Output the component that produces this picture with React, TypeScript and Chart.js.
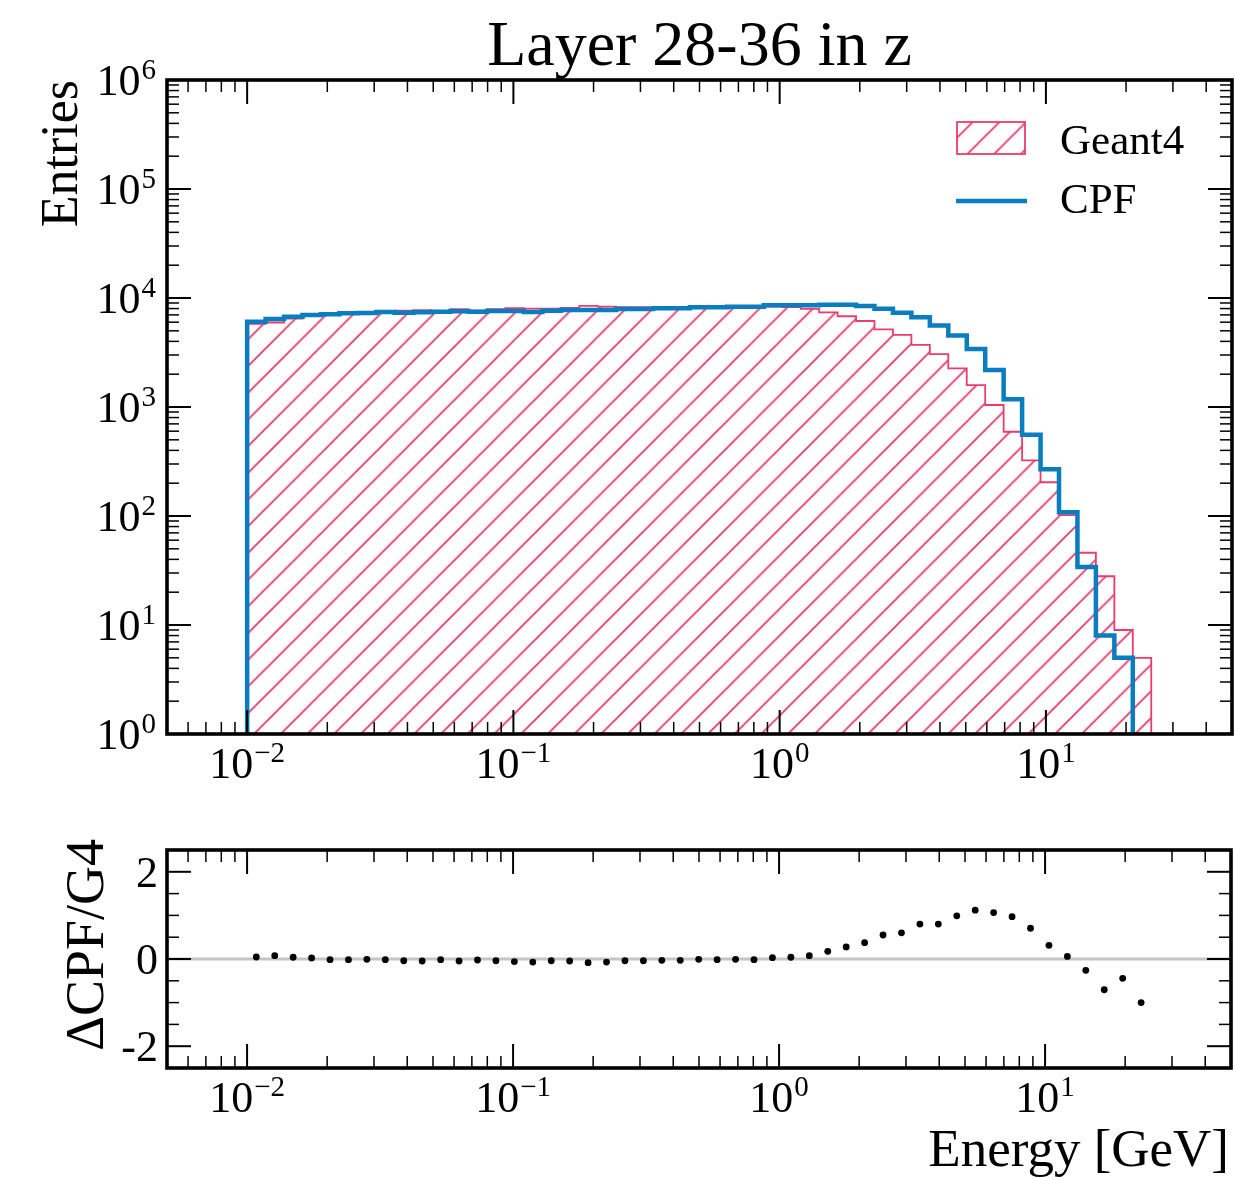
import React, { useEffect, useRef } from "react";
import { Chart, registerables } from "chart.js";

Chart.register(...registerables);

const PAGE_W = 1235;
const PAGE_H = 1180;

// Binning: 50 logarithmic bins starting at 10^-2 GeV
const LOG_FIRST_EDGE = -2;
const LOG_BIN_WIDTH = 0.0693;
const N_BINS = 50;

// Entries per bin
const GEANT4_COUNTS = [
  5800, 5960, 6480, 6830, 7200, 7350, 7340, 7550, 7640, 7750,
  7600, 7920, 7660, 7920, 8080, 8000, 7970, 8130, 8480, 8340,
  8260, 8260, 8290, 8290, 8280, 8340, 8390, 8450, 8320, 8240,
  7960, 7380, 6800, 6150, 5160, 4580, 3710, 3060, 2265, 1590,
  1043, 593, 324, 204, 102, 46, 28, 9, 5, 0,
];
const CPF_COUNTS = [
  6060, 6420, 6740, 6980, 7090, 7240, 7280, 7440, 7330, 7390,
  7490, 7550, 7490, 7600, 7600, 7440, 7650, 7760, 7760, 7760,
  7930, 7930, 8040, 8040, 8220, 8220, 8320, 8320, 8570, 8570,
  8570, 8680, 8680, 8460, 7950, 7330, 6670, 5600, 4540, 3400,
  2180, 1180, 557, 268, 108, 34, 8, 5, 0, 0,
];
// (CPF - G4) / G4 per bin
const RATIO_VALUES: (number | null)[] = [
  0.046, 0.077, 0.04, 0.023, -0.015, -0.015, -0.008, -0.015, -0.04, -0.046,
  -0.015, -0.046, -0.023, -0.04, -0.06, -0.07, -0.04, -0.046, -0.085, -0.07,
  -0.04, -0.04, -0.03, -0.03, -0.008, -0.015, -0.008, -0.015, 0.03, 0.04,
  0.077, 0.176, 0.276, 0.375, 0.55, 0.6, 0.8, 0.8, 0.99, 1.12,
  1.065, 0.97, 0.705, 0.314, 0.06, -0.26, -0.705, -0.444, -1.0, null,
];

const X_LIMITS = [0.005, 50];
const Y_LIMITS = [1, 1e6];
const RATIO_LIMITS = [-2.5, 2.5];

const X_MAJOR_TICKS = [0.01, 0.1, 1, 10];
const X_MAJOR_EXPONENTS = ["\u22122", "\u22121", "0", "1"];
const Y_MAJOR_TICKS = [1, 10, 100, 1000, 10000, 100000, 1000000];
const Y_MAJOR_EXPONENTS = ["0", "1", "2", "3", "4", "5", "6"];
const RATIO_MAJOR_TICKS = [-2, 0, 2];
const RATIO_MAJOR_LABELS = ["-2", "0", "2"];
const RATIO_MINOR_TICKS = [-1.5, -1, -0.5, 0.5, 1, 1.5];

const TITLE = "Layer 28-36 in z";
const Y_LABEL_TOP = "Entries";
const Y_LABEL_BOTTOM = "\u0394CPF/G4";
const X_LABEL = "Energy [GeV]";
const LEGEND_G4 = "Geant4";
const LEGEND_CPF = "CPF";

const RED = "#ea3d6c";
const BLUE = "#0a7cc0";
const GREY = "#c4c4c4";
const FONT = '"Liberation Serif", "Times New Roman", serif';

const TOP_PAD = { left: 167, top: 80, right: PAGE_W - 1232, bottom: PAGE_H - 734 };
const BOT_PAD = { left: 167, top: 850, right: PAGE_W - 1232, bottom: PAGE_H - 1068 };

const MAJOR_LEN = 24;
const MINOR_LEN = 12;
const FRAME_W = 3.6;
const TICK_PX = 44;
const SUP_PX = 29;
const SUP_RAISE = 16;

const BIN_EDGES = Array.from({ length: N_BINS + 1 }, (_, i) => Math.pow(10, LOG_FIRST_EDGE + i * LOG_BIN_WIDTH));
const BIN_CENTERS = Array.from({ length: N_BINS }, (_, i) => Math.pow(10, LOG_FIRST_EDGE + (i + 0.5) * LOG_BIN_WIDTH));

function stepPoints(counts: number[]) {
  let last = counts.length - 1;
  while (last >= 0 && counts[last] <= 0) last--;
  const floor = 0.5;
  const pts: { x: number; y: number }[] = [{ x: BIN_EDGES[0], y: floor }];
  for (let i = 0; i <= last; i++) pts.push({ x: BIN_EDGES[i], y: Math.max(counts[i], floor) });
  pts.push({ x: BIN_EDGES[last + 1], y: counts[last] });
  pts.push({ x: BIN_EDGES[last + 1], y: floor });
  return pts;
}

function logMinorTicks(min: number, max: number) {
  const out: number[] = [];
  const e0 = Math.floor(Math.log10(min));
  const e1 = Math.ceil(Math.log10(max));
  for (let e = e0; e <= e1; e++) {
    for (let k = 2; k <= 9; k++) {
      const v = k * Math.pow(10, e);
      if (v > min * 1.0001 && v < max * 0.9999) out.push(v);
    }
  }
  return out;
}

function makeHatch(ctx: CanvasRenderingContext2D) {
  const s = 27;
  const c = document.createElement("canvas");
  c.width = s;
  c.height = s;
  const g = c.getContext("2d")!;
  g.strokeStyle = RED;
  g.lineWidth = 1.9;
  g.beginPath();
  g.moveTo(-3, s + 3);
  g.lineTo(s + 3, -3);
  g.moveTo(-3, 3);
  g.lineTo(3, -3);
  g.moveTo(s - 3, s + 3);
  g.lineTo(s + 3, s - 3);
  g.stroke();
  const p = ctx.createPattern(c, "repeat")!;
  try {
    if ((p as any).setTransform) (p as any).setTransform(new DOMMatrix().scale(26.7 / s));
  } catch (e) {}
  return p;
}

function line(ctx: CanvasRenderingContext2D, x1: number, y1: number, x2: number, y2: number) {
  ctx.beginPath();
  ctx.moveTo(x1, y1);
  ctx.lineTo(x2, y2);
  ctx.stroke();
}

function drawXTicks(ctx: CanvasRenderingContext2D, sx: any, a: any) {
  ctx.strokeStyle = "#000";
  ctx.lineWidth = 2;
  X_MAJOR_TICKS.forEach((v) => {
    const px = sx.getPixelForValue(v);
    line(ctx, px, a.bottom, px, a.bottom - MAJOR_LEN);
    line(ctx, px, a.top, px, a.top + MAJOR_LEN);
  });
  ctx.lineWidth = 1.5;
  logMinorTicks(X_LIMITS[0], X_LIMITS[1]).forEach((v) => {
    const px = sx.getPixelForValue(v);
    line(ctx, px, a.bottom, px, a.bottom - MINOR_LEN);
    line(ctx, px, a.top, px, a.top + MINOR_LEN);
  });
}

function drawYTicks(ctx: CanvasRenderingContext2D, sy: any, a: any, majors: number[], minors: number[]) {
  ctx.strokeStyle = "#000";
  ctx.lineWidth = 2;
  majors.forEach((v) => {
    const py = sy.getPixelForValue(v);
    line(ctx, a.left, py, a.left + MAJOR_LEN, py);
    line(ctx, a.right, py, a.right - MAJOR_LEN, py);
  });
  ctx.lineWidth = 1.5;
  minors.forEach((v) => {
    const py = sy.getPixelForValue(v);
    line(ctx, a.left, py, a.left + MINOR_LEN, py);
    line(ctx, a.right, py, a.right - MINOR_LEN, py);
  });
}

function drawFrame(ctx: CanvasRenderingContext2D, a: any) {
  ctx.strokeStyle = "#000";
  ctx.lineWidth = FRAME_W;
  ctx.strokeRect(a.left, a.top, a.right - a.left, a.bottom - a.top);
}

function powerLabel(ctx: CanvasRenderingContext2D, x: number, baseline: number, exp: string, align: "center" | "right") {
  ctx.textAlign = "left";
  ctx.textBaseline = "alphabetic";
  ctx.fillStyle = "#000";
  ctx.font = `${TICK_PX}px ${FONT}`;
  const w1 = ctx.measureText("10").width;
  ctx.font = `${SUP_PX}px ${FONT}`;
  const w2 = ctx.measureText(exp).width;
  const total = w1 + w2 + 1;
  const x0 = align === "center" ? x - total / 2 : x - total;
  ctx.font = `${TICK_PX}px ${FONT}`;
  ctx.fillText("10", x0, baseline);
  ctx.font = `${SUP_PX}px ${FONT}`;
  ctx.fillText(exp, x0 + w1 + 1, baseline - SUP_RAISE);
}

function drawXLabels(ctx: CanvasRenderingContext2D, sx: any, a: any) {
  X_MAJOR_TICKS.forEach((v, i) => {
    powerLabel(ctx, sx.getPixelForValue(v), a.bottom + 44, X_MAJOR_EXPONENTS[i], "center");
  });
}

function rotatedText(ctx: CanvasRenderingContext2D, text: string, x: number, y: number, px: number) {
  ctx.save();
  ctx.translate(x, y);
  ctx.rotate(-Math.PI / 2);
  ctx.font = `${px}px ${FONT}`;
  ctx.fillStyle = "#000";
  ctx.textAlign = "right";
  ctx.textBaseline = "alphabetic";
  ctx.fillText(text, 0, 0);
  ctx.restore();
}

export default function App() {
  const topRef = useRef<HTMLCanvasElement>(null);
  const botRef = useRef<HTMLCanvasElement>(null);

  useEffect(() => {
    const topCanvas = topRef.current!;
    const botCanvas = botRef.current!;
    const hatch = makeHatch(topCanvas.getContext("2d")!);

    const topDecor = {
      id: "topDecor",
      afterDatasetsDraw(chart: any) {
        const { ctx, chartArea: a, scales } = chart;
        ctx.save();
        drawXTicks(ctx, scales.x, a);
        drawYTicks(ctx, scales.y, a, Y_MAJOR_TICKS, logMinorTicks(Y_LIMITS[0], Y_LIMITS[1]));
        drawFrame(ctx, a);
        ctx.restore();
      },
      afterDraw(chart: any) {
        const { ctx, chartArea: a, scales } = chart;
        ctx.save();
        ctx.fillStyle = "#000";
        ctx.font = `64px ${FONT}`;
        ctx.textAlign = "center";
        ctx.textBaseline = "alphabetic";
        ctx.fillText(TITLE, (a.left + a.right) / 2, 65);
        rotatedText(ctx, Y_LABEL_TOP, 77, a.top, 52);
        Y_MAJOR_TICKS.forEach((v, i) => {
          powerLabel(ctx, 156, scales.y.getPixelForValue(v) + 15, Y_MAJOR_EXPONENTS[i], "right");
        });
        drawXLabels(ctx, scales.x, a);
        // legend
        ctx.fillStyle = hatch;
        ctx.fillRect(957, 122, 68, 32);
        ctx.strokeStyle = RED;
        ctx.lineWidth = 1.8;
        ctx.strokeRect(957, 122, 68, 32);
        ctx.strokeStyle = BLUE;
        ctx.lineWidth = 4.5;
        line(ctx, 956, 201, 1027, 201);
        ctx.fillStyle = "#000";
        ctx.font = `43px ${FONT}`;
        ctx.textAlign = "left";
        ctx.fillText(LEGEND_G4, 1060, 154);
        ctx.fillText(LEGEND_CPF, 1060, 213);
        ctx.restore();
      },
    };

    const botDecor = {
      id: "botDecor",
      afterDatasetsDraw(chart: any) {
        const { ctx, chartArea: a, scales } = chart;
        ctx.save();
        drawXTicks(ctx, scales.x, a);
        drawYTicks(ctx, scales.y, a, RATIO_MAJOR_TICKS, RATIO_MINOR_TICKS);
        drawFrame(ctx, a);
        ctx.restore();
      },
      afterDraw(chart: any) {
        const { ctx, chartArea: a, scales } = chart;
        ctx.save();
        rotatedText(ctx, Y_LABEL_BOTTOM, 103, 839, 54);
        ctx.fillStyle = "#000";
        ctx.font = `${TICK_PX}px ${FONT}`;
        ctx.textAlign = "right";
        ctx.textBaseline = "alphabetic";
        RATIO_MAJOR_TICKS.forEach((v, i) => {
          ctx.fillText(RATIO_MAJOR_LABELS[i], 158, scales.y.getPixelForValue(v) + 15);
        });
        drawXLabels(ctx, scales.x, a);
        ctx.font = `53px ${FONT}`;
        ctx.textAlign = "right";
        ctx.fillStyle = "#000";
        ctx.fillText(X_LABEL, a.right - 2, 1166);
        ctx.restore();
      },
    };

    const common = {
      animation: false,
      responsive: false,
      devicePixelRatio: 1,
      events: [],
      plugins: { legend: { display: false }, title: { display: false }, tooltip: { enabled: false } },
    };

    const top = new Chart(topCanvas, {
      type: "line",
      data: {
        datasets: [
          {
            label: LEGEND_CPF,
            data: stepPoints(CPF_COUNTS),
            borderColor: BLUE,
            borderWidth: 4.5,
            stepped: true,
            pointRadius: 0,
            fill: false,
            borderJoinStyle: "miter",
          },
          {
            label: LEGEND_G4,
            data: stepPoints(GEANT4_COUNTS),
            borderColor: RED,
            borderWidth: 1.8,
            stepped: true,
            pointRadius: 0,
            fill: "start",
            backgroundColor: hatch,
            borderJoinStyle: "miter",
          },
        ],
      },
      options: {
        ...common,
        layout: { padding: TOP_PAD },
        scales: {
          x: { type: "logarithmic", min: X_LIMITS[0], max: X_LIMITS[1], bounds: "data", display: false },
          y: { type: "logarithmic", min: Y_LIMITS[0], max: Y_LIMITS[1], bounds: "data", display: false },
        },
      } as any,
      plugins: [topDecor],
    } as any);

    const ratioPoints = RATIO_VALUES.map((r, i) => (r === null ? null : { x: BIN_CENTERS[i], y: r })).filter(
      (p) => p !== null
    );

    const bot = new Chart(botCanvas, {
      type: "scatter",
      data: {
        datasets: [
          {
            type: "scatter",
            label: "ratio",
            data: ratioPoints,
            pointRadius: 3.4,
            backgroundColor: "#000",
            borderWidth: 0,
          },
          {
            type: "line",
            label: "zero",
            data: [
              { x: X_LIMITS[0], y: 0 },
              { x: X_LIMITS[1], y: 0 },
            ],
            borderColor: GREY,
            borderWidth: 3,
            pointRadius: 0,
            fill: false,
          },
        ],
      },
      options: {
        ...common,
        layout: { padding: BOT_PAD },
        scales: {
          x: { type: "logarithmic", min: X_LIMITS[0], max: X_LIMITS[1], bounds: "data", display: false },
          y: { type: "linear", min: RATIO_LIMITS[0], max: RATIO_LIMITS[1], bounds: "data", display: false },
        },
      } as any,
      plugins: [botDecor],
    } as any);

    return () => {
      top.destroy();
      bot.destroy();
    };
  }, []);

  const canvasStyle: React.CSSProperties = { position: "absolute", left: 0, top: 0, width: PAGE_W, height: PAGE_H };
  return (
    <div style={{ position: "fixed", left: 0, top: 0, width: PAGE_W, height: PAGE_H, background: "#fff" }}>
      <canvas ref={topRef} width={PAGE_W} height={PAGE_H} style={canvasStyle} />
      <canvas ref={botRef} width={PAGE_W} height={PAGE_H} style={canvasStyle} />
    </div>
  );
}
